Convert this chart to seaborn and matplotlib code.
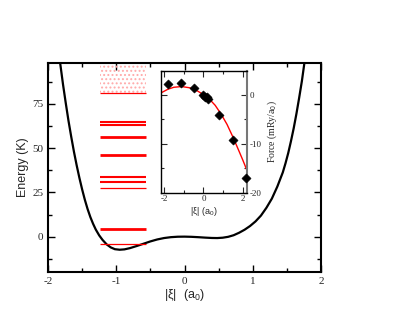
import numpy as np
import pandas as pd
import matplotlib
matplotlib.use("Agg")
import matplotlib.pyplot as plt
from matplotlib.ticker import MultipleLocator
import seaborn as sns

# ---- data ----
xi = [-1.824, -1.78, -1.74, -1.70, -1.66, -1.62, -1.58, -1.54, -1.50, -1.46, -1.42,
      -1.38, -1.34, -1.30, -1.25, -1.20, -1.14, -1.08, -1.02, -0.95, -0.88, -0.80,
      -0.70, -0.60, -0.50, -0.40, -0.30, -0.20, -0.10, 0.0, 0.10, 0.20, 0.30, 0.40,
      0.48, 0.56, 0.64, 0.72, 0.80, 0.88, 0.96, 1.04, 1.12, 1.20, 1.28, 1.36, 1.44,
      1.48, 1.52, 1.56, 1.60, 1.64, 1.68, 1.72, 1.755]
energy = [98.7, 86.0, 75.5, 65.5, 56.5, 48.0, 40.3, 33.2, 26.7, 20.8, 15.6,
          11.1, 7.3, 4.0, 0.7, -1.9, -4.4, -6.1, -7.1, -7.4, -7.2, -6.5,
          -5.3, -4.0, -2.7, -1.6, -0.8, -0.3, -0.05, 0.0, -0.1, -0.3, -0.55, -0.75,
          -0.8, -0.6, -0.1, 0.8, 2.2, 3.9, 6.0, 8.6, 11.9, 16.3, 21.5, 28.3, 36.3,
          41.5, 47.3, 54.0, 61.3, 69.5, 78.5, 88.0, 97.7]

levels_thick = [4.2, 45.9, 56.3]
levels_medium = [30.9, 33.7, 63.1, 64.9]
levels_thin = [-4.4, 27.7, 81.0]
continuum_start = 81.0

force_xi = [-1.78, -1.15, -0.47, 0.0, 0.08, 0.17, 0.25, 0.81, 1.49, 2.17]
force_val = [2.25, 2.4, 1.37, 0.1, -0.3, -0.4, -0.7, -4.1, -9.2, -17.0]

fit_xi = [-2.15, -1.8, -1.5, -1.1, -0.7, -0.3, 0.0, 0.3, 0.6, 0.9, 1.2, 1.5, 1.8, 2.0, 2.2]
fit_val = [0.45, 1.2, 1.6, 1.75, 1.5, 0.85, 0.1, -0.8, -2.1, -3.9, -6.0, -8.6, -11.4, -13.3, -15.3]

main_xticks = [-2, -1, 0, 1, 2]
main_yticks = [0, 25, 50, 75]
inset_xticks = [-2, 0, 2]
inset_yticks = [0, -10, -20]

# ---- style ----
sns.set_style("ticks")
plt.rcParams['font.family'] = ['Liberation Serif', 'DejaVu Serif']
plt.rcParams['mathtext.fontset'] = 'custom'
plt.rcParams['mathtext.rm'] = 'Liberation Sans'
plt.rcParams['axes.unicode_minus'] = False
plt.rcParams['hatch.linewidth'] = 0.9
sans = ["Liberation Sans", "DejaVu Sans"]

fig = plt.figure(figsize=(4.15, 3.21), dpi=100)
ax = fig.add_axes([0.1157, 0.1526, 0.6578, 0.6502])

curve = pd.DataFrame({"xi": xi, "E": energy})
sns.lineplot(data=curve, x="xi", y="E", ax=ax, color="black", lw=1.6,
             sort=False, estimator=None)

lx0, lx1 = -1.238, -0.569
ax.hlines(levels_thick, lx0, lx1, colors="red", lw=2.0)
ax.hlines(levels_medium, lx0, lx1, colors="red", lw=1.5)
ax.hlines(levels_thin, lx0, lx1, colors="red", lw=0.9)
ax.fill_between([lx0, lx1], continuum_start, 100, facecolor="none",
                edgecolor="#ffaaaa", hatch="....", lw=0)

ax.set_xlim(-2, 2)
ax.set_ylim(-20, 98)
ax.set_xticks(main_xticks)
ax.set_yticks(main_yticks)
ax.xaxis.set_minor_locator(MultipleLocator(0.5))
ax.yaxis.set_minor_locator(MultipleLocator(12.5))
ax.tick_params(which="both", direction="in", top=True, right=True, labelsize=8,
               width=1.0, color="black")
ax.tick_params(which="major", length=5)
ax.tick_params(which="minor", length=3)
for s in ax.spines.values():
    s.set_linewidth(1.5)
    s.set_color("black")
ax.set_xlabel(r"|ξ|  (a$_0$)", fontsize=9, family=sans, labelpad=1)
ax.set_ylabel("Energy (K)", fontsize=9, family=sans, labelpad=2)

# ---- inset ----
ins = fig.add_axes([0.388, 0.3997, 0.2065, 0.3801])
fit = pd.DataFrame({"xi": fit_xi, "F": fit_val})
sns.lineplot(data=fit, x="xi", y="F", ax=ins, color="red", lw=1.0, estimator=None)
pts = pd.DataFrame({"xi": force_xi, "F": force_val})
sns.scatterplot(data=pts, x="xi", y="F", ax=ins, marker="D", s=22, color="black",
                edgecolor="black", zorder=5, clip_on=False)
ins.set_xlim(-2.15, 2.2)
ins.set_ylim(-20, 5)
ins.set_xticks(inset_xticks)
ins.set_yticks(inset_yticks)
ins.xaxis.set_minor_locator(MultipleLocator(1))
ins.yaxis.set_minor_locator(MultipleLocator(5))
ins.yaxis.tick_right()
ins.yaxis.set_label_position("right")
ins.tick_params(which="both", direction="in", top=True, left=True, right=True,
                labelsize=6.5, width=0.8, pad=2)
ins.tick_params(which="major", length=4)
ins.tick_params(which="minor", length=2.5)
for s in ins.spines.values():
    s.set_linewidth(1.0)
    s.set_color("black")
ins.spines["right"].set_color("#777777")
ins.spines["right"].set_linewidth(1.5)
ins.set_xlabel(r"|ξ| (a$_0$)", fontsize=6.5, family=sans, labelpad=1)
ins.set_ylabel(r"Force (mRy/a$_0$)", fontsize=7, labelpad=3)

fig.savefig("out.png", dpi=100)
